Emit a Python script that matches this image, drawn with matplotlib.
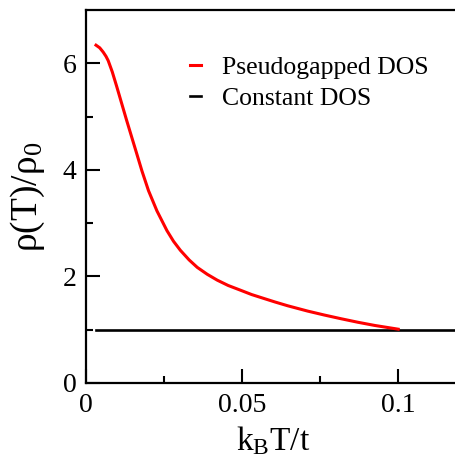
import matplotlib
matplotlib.use("Agg")
import matplotlib.pyplot as plt
import matplotlib.ticker as mticker
import numpy as np

plt.rcParams['font.family'] = 'Liberation Serif'
plt.rcParams['mathtext.fontset'] = 'custom'
plt.rcParams['mathtext.rm'] = 'Liberation Serif'
plt.rcParams['mathtext.it'] = 'Liberation Serif:italic'

# ------------------- data -------------------
T_pg = [0.0032, 0.0044, 0.0055, 0.0064, 0.0071, 0.0084, 0.0098, 0.0114,
        0.0130, 0.0146, 0.0161, 0.0179, 0.0200, 0.0227, 0.0259, 0.0280,
        0.0302, 0.0330, 0.0356, 0.0388, 0.0420, 0.0455, 0.0495, 0.0530,
        0.0570, 0.0605, 0.0645, 0.0709, 0.0763, 0.0817, 0.0870, 0.0924,
        0.0999]
rho_pg = [6.34, 6.29, 6.21, 6.13, 6.05, 5.84, 5.57, 5.25,
          4.93, 4.62, 4.33, 3.98, 3.61, 3.23, 2.86, 2.66,
          2.49, 2.31, 2.17, 2.04, 1.93, 1.83, 1.74, 1.66,
          1.585, 1.52, 1.45, 1.35, 1.275, 1.205, 1.14, 1.08,
          1.01]
T_const = [0.0032, 0.12]
rho_const = [1.0, 1.0]

fig = plt.figure(figsize=(4.56, 4.62), dpi=100)
ax = fig.add_axes([86/456, 79/462, 375/456, 373/462])

ax.plot(T_const, rho_const, color='black', lw=1.9, label='Constant DOS', zorder=2)
ax.plot(T_pg, rho_pg, color='#ff0000', lw=2.2, label='Pseudogapped DOS', zorder=3,
        solid_joinstyle='round')

ax.set_xlim(0, 0.12)
ax.set_ylim(0, 7)
ax.xaxis.set_major_locator(mticker.FixedLocator([0, 0.05, 0.1]))
ax.xaxis.set_minor_locator(mticker.FixedLocator([0.025, 0.075]))
ax.yaxis.set_major_locator(mticker.FixedLocator([0, 2, 4, 6]))
ax.yaxis.set_minor_locator(mticker.FixedLocator([1, 3, 5]))
ax.set_xticklabels(['0', '0.05', '0.1'])
ax.set_yticklabels(['0', '2', '4', '6'])

ax.tick_params(which='major', direction='in', length=10, width=1.5, labelsize=20, pad=7)
ax.tick_params(which='minor', direction='in', length=5, width=1.5)
ax.tick_params(top=False, right=False)
for s in ax.spines.values():
    s.set_linewidth(1.6)

ax.set_xlabel(r'$\mathrm{k_B T/t}$', fontsize=24, labelpad=4.5)
ax.set_ylabel(r'$\mathrm{\rho(T)/\rho_0}$', fontsize=27, labelpad=11)

h, l = ax.get_legend_handles_labels()
ax.legend(h[::-1], l[::-1], loc='upper left', bbox_to_anchor=(0.277, 0.877),
          frameon=False, fontsize=18.5, handlelength=0.45, handletextpad=0.8,
          borderaxespad=0, borderpad=0, labelspacing=0.33)

fig.savefig('out.png', dpi=100)
